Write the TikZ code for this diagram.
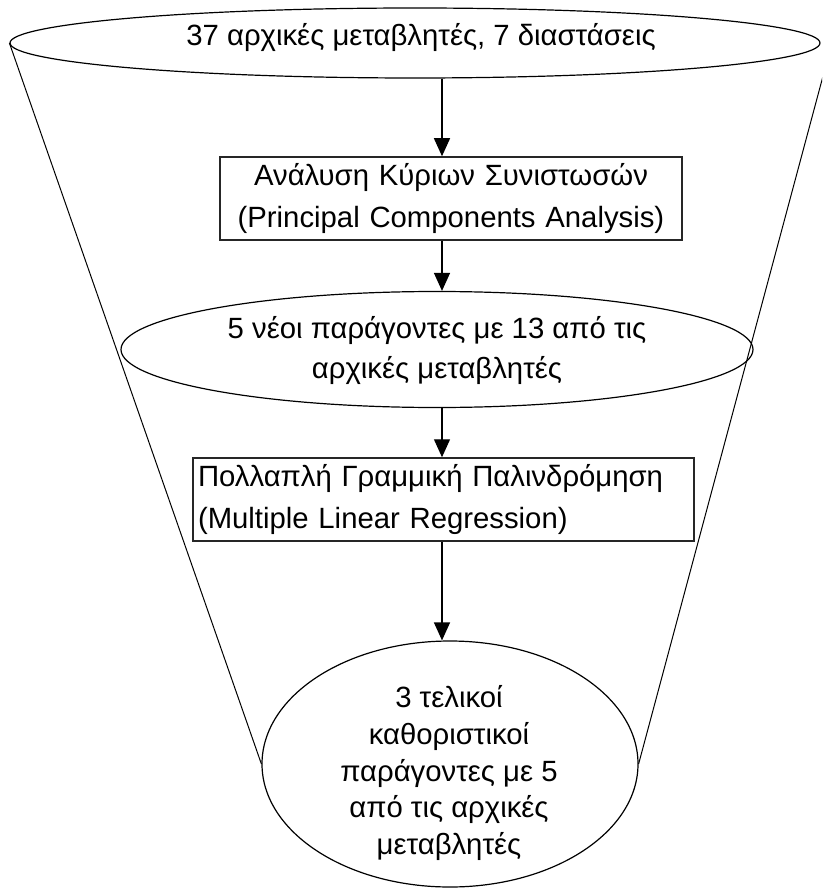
\documentclass[tikz,border=0pt]{standalone}
\usepackage{fontspec}
\setmainfont{Liberation Sans}
\usetikzlibrary{shapes.geometric,arrows.meta}
\begin{document}
\begin{tikzpicture}[x=1pt,y=-1pt,
  lbl/.style={font=\fontsize{29.3}{40}\selectfont, align=center, inner sep=0pt},
  oval/.style={draw, ellipse, line width=1.2pt, inner sep=0pt},
  stagebox/.style={draw=black!85, line width=1.5pt, rectangle, inner xsep=5pt,
    inner ysep=0pt, font=\fontsize{29.3}{42}\selectfont},
  flow/.style={-{Triangle[width=16pt,length=18pt]}, line width=1.3pt},
  rim/.style={line width=1pt}]
\useasboundingbox (0,0) rectangle (822,890);
\clip (0,0) rectangle (822,890);

% stages of the funnel
\node[oval, minimum width=810pt, minimum height=70pt] (top) at (415,43) {};
\node[lbl] (toptext) at (421,38) {37 αρχικές μεταβλητές, 7 διαστάσεις};

\node[stagebox, text width=452pt, align=center, minimum height=83pt] (pca) at (451,198.5)
  {Ανάλυση Κύριων Συνιστωσών\\(Principal Components Analysis)};

\node[oval, minimum width=632pt, minimum height=116pt] (mid) at (437,349.5) {};
\node[lbl] (midtext) at (437,351) {5 νέοι παράγοντες με 13 από τις\\αρχικές μεταβλητές};

\node[stagebox, text width=491pt, align=left, minimum height=83pt] (mlr) at (443.5,499.5)
  {Πολλαπλή Γραμμική Παλινδρόμηση\\(Multiple Linear Regression)};

\node[oval, minimum width=376pt, minimum height=246pt] (fin) at (450,764) {};
\node[lbl, font=\fontsize{29.3}{36.7}\selectfont] (fintext) at (449,773)
  {3 τελικοί\\καθοριστικοί\\παράγοντες με 5\\από τις αρχικές\\μεταβλητές};

% vertical flow between the stages
\coordinate (axis) at (442,0);
\draw[flow] (top.south -| axis) -- (pca.north -| axis);
\draw[flow] (pca.south -| axis) -- (mid.north -| axis);
\draw[flow] (mid.south -| axis) -- (mlr.north -| axis);
\draw[flow] (mlr.south -| axis) -- (fin.north -| axis);

% funnel walls
\coordinate (rimtop) at (830,50);
\draw[rim] (top.west) -- (fin.west);
\draw[rim] (rimtop) -- (fin.east);
\end{tikzpicture}
\end{document}
